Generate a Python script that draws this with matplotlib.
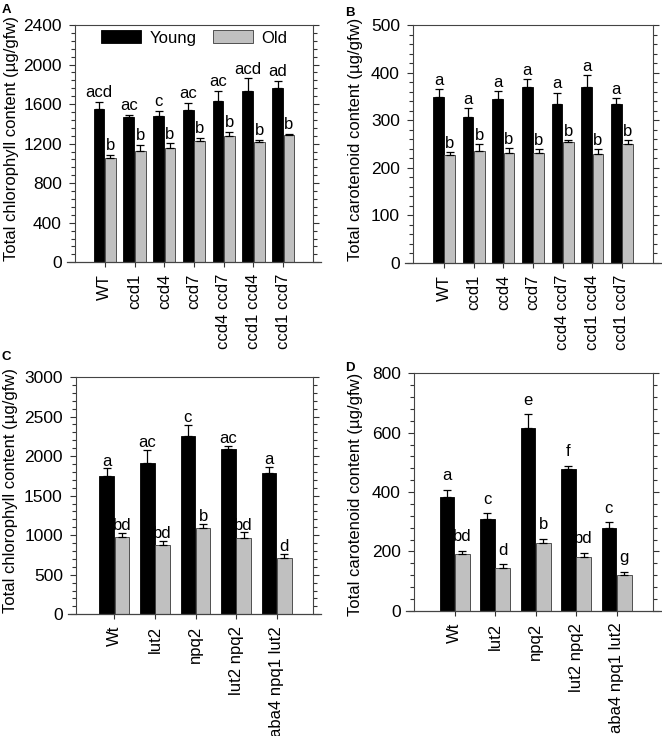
import numpy as np
import matplotlib
matplotlib.use("Agg")
import matplotlib.pyplot as plt
from matplotlib.ticker import MultipleLocator

plt.rcParams["font.family"] = ["Liberation Sans", "DejaVu Sans"]

# panels A/B: ccd mutants
groups_ab = ["WT", "ccd1", "ccd4", "ccd7", "ccd4 ccd7", "ccd1 ccd4", "ccd1 ccd7"]
chl_young     = [1555, 1465, 1480, 1545, 1635, 1735, 1765]
chl_young_err = [70, 28, 55, 70, 98, 125, 68]
chl_old       = [1050, 1125, 1155, 1225, 1280, 1220, 1288]
chl_old_err   = [33, 60, 47, 30, 40, 20, 13]
chl_young_lab = ["acd", "ac", "c", "ac", "ac", "acd", "ad"]
chl_old_lab   = ["b", "b", "b", "b", "b", "b", "b"]

car_young     = [348, 306, 344, 370, 334, 369, 333]
car_young_err = [17, 19, 18, 17, 24, 25, 14]
car_old       = [227, 235, 231, 232, 254, 228, 249]
car_old_err   = [6, 14, 10, 7, 4, 11, 9]
car_young_lab = ["a"] * 7
car_old_lab   = ["b"] * 7

# panels C/D: xanthophyll mutants
groups_cd = ["Wt", "lut2", "npq2", "lut2 npq2", "aba4 npq1 lut2"]
chl2_young     = [1745, 1915, 2250, 2085, 1780]
chl2_young_err = [100, 160, 145, 47, 80]
chl2_old       = [975, 873, 1093, 966, 710]
chl2_old_err   = [50, 50, 46, 68, 50]
chl2_young_lab = ["a", "ac", "c", "ac", "a"]
chl2_old_lab   = ["bd", "bd", "b", "bd", "d"]

car2_young     = [383, 310, 617, 476, 278]
car2_young_err = [25, 18, 45, 12, 20]
car2_old       = [190, 145, 229, 180, 120]
car2_old_err   = [11, 11, 14, 15, 10]
car2_young_lab = ["a", "c", "e", "f", "c"]
car2_old_lab   = ["bd", "d", "b", "bd", "g"]

BLACK = "#000000"
GRAY = "#c0c0c0"
EDGE = "#3a3a3a"
FS = 12


def draw_panel(ax, groups, young, yerr, old, oerr, ylab, olab,
               ymax, major, minor, ylabel, xlim, width, lab_off, label_xy):
    x = np.arange(1, len(groups) + 1)
    off = width / 2 + 0.01
    ax.bar(x - off, young, width, color=BLACK, edgecolor=BLACK, linewidth=0.6,
           label="Young", zorder=2)
    ax.bar(x + off, old, width, color=GRAY, edgecolor=EDGE, linewidth=0.6,
           label="Old", zorder=2)
    for xs, vals, errs in [(x - off, young, yerr), (x + off, old, oerr)]:
        ax.errorbar(xs, vals, yerr=[np.zeros(len(vals)), errs], fmt="none",
                    ecolor="black", elinewidth=0.9, capsize=2.6,
                    capthick=0.9, zorder=3)
    for xs, vals, errs, labs in [(x - off, young, yerr, ylab),
                                 (x + off, old, oerr, olab)]:
        for xi, v, e, t in zip(xs, vals, errs, labs):
            ax.annotate(t, (xi, v + e), xytext=(0, lab_off),
                        textcoords="offset points", ha="center",
                        va="baseline", fontsize=FS)

    ax.set_xlim(*xlim)
    ax.set_ylim(0, ymax)
    ax.yaxis.set_major_locator(MultipleLocator(major))
    ax.yaxis.set_minor_locator(MultipleLocator(minor))
    ax.set_xticks(x)
    ax.set_xticklabels(groups, rotation=90, fontsize=FS)
    ax.tick_params(axis="y", which="both", direction="out", left=True,
                   right=True, labelsize=FS + 0.5, pad=5.5, width=0.8,
                   color="#333333")
    ax.tick_params(axis="y", which="major", length=4)
    ax.tick_params(axis="y", which="minor", length=3)
    ax.tick_params(axis="x", direction="out", length=3.5, width=0.8,
                   pad=5, color="#333333")
    for s in ["left", "right", "top"]:
        ax.spines[s].set_linewidth(0.8)
        ax.spines[s].set_color("#444444")
    ax.spines["bottom"].set_visible(False)
    # zero line runs slightly past the frame
    ax.plot([-0.035, 1.035], [0, 0], transform=ax.get_yaxis_transform(),
            color="#444444", lw=0.9, clip_on=False, zorder=4)
    ax.set_ylabel(ylabel, fontsize=FS)
    ax.yaxis.set_label_coords(*label_xy)


fig = plt.figure(figsize=(6.62, 7.36), dpi=100)
axA = fig.add_axes([0.1133, 0.6436, 0.3595, 0.3224])
axB = fig.add_axes([0.6239, 0.6427, 0.3625, 0.3233])
axC = fig.add_axes([0.1148, 0.1654, 0.3580, 0.3224])
axD = fig.add_axes([0.6254, 0.1702, 0.3610, 0.3226])

draw_panel(axA, groups_ab, chl_young, chl_young_err, chl_old, chl_old_err,
           chl_young_lab, chl_old_lab, 2400, 400, 80,
           "Total chlorophyll content (µg/gfw)", (0, 8), 0.36, 3.5,
           (-0.235, 0.52))
draw_panel(axB, groups_ab, car_young, car_young_err, car_old, car_old_err,
           car_young_lab, car_old_lab, 500, 100, 20,
           "Total carotenoid content (µg/gfw)", (-0.05, 8.05), 0.36, 3,
           (-0.21, 0.52))
draw_panel(axC, groups_cd, chl2_young, chl2_young_err, chl2_old, chl2_old_err,
           chl2_young_lab, chl2_old_lab, 3000, 500, 100,
           "Total chlorophyll content (µg/gfw)", (0.05, 5.9), 0.36, 2,
           (-0.245, 0.52))
draw_panel(axD, groups_cd, car2_young, car2_young_err, car2_old, car2_old_err,
           car2_young_lab, car2_old_lab, 800, 200, 40,
           "Total carotenoid content (µg/gfw)", (0, 5.9), 0.36, 7,
           (-0.213, 0.49))

axA.legend(loc="center", bbox_to_anchor=(0.5, 0.945), ncol=2, frameon=False,
           fontsize=FS, handlelength=2.4, handleheight=0.8,
           handletextpad=0.5, columnspacing=1.0)

for t, xf, yp in [("A", 0.003, 4), ("B", 0.521, 7), ("C", 0.003, 351), ("D", 0.521, 362)]:
    fig.text(xf, 1 - yp / 736, t, fontsize=9.5, fontweight="bold", va="top", ha="left")

fig.savefig("out.png", dpi=100)
